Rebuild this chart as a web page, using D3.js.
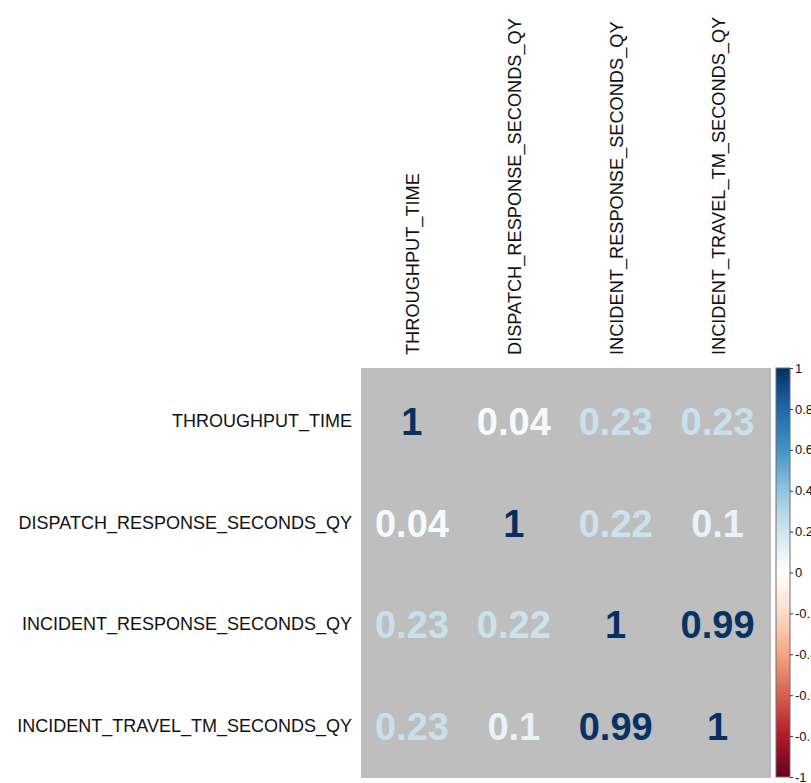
<!DOCTYPE html>
<html>
<head>
<meta charset="utf-8">
<script src="https://cdn.jsdelivr.net/npm/d3@7"></script>
<style>
  html, body { margin: 0; padding: 0; background: #ffffff; }
  svg { display: block; }
</style>
</head>
<body>
<svg id="chart" width="811" height="783"></svg>
<script>
// Variables of the correlation matrix
const variables = [
  "THROUGHPUT_TIME",
  "DISPATCH_RESPONSE_SECONDS_QY",
  "INCIDENT_RESPONSE_SECONDS_QY",
  "INCIDENT_TRAVEL_TM_SECONDS_QY"
];

// Correlation coefficients, one row per variable
const row1 = [1, 0.04, 0.23, 0.23];
const row2 = [0.04, 1, 0.22, 0.1];
const row3 = [0.23, 0.22, 1, 0.99];
const row4 = [0.23, 0.1, 0.99, 1];
const matrix = [row1, row2, row3, row4];

// Colour legend ticks
const legendTicks = [1, 0.8, 0.6, 0.4, 0.2, 0, -0.2, -0.4, -0.6, -0.8, -1];

// Diverging red-blue palette
const paletteStops = ["#67001F", "#B2182B", "#D6604D", "#F4A582", "#FDDBC7", "#FFFFFF",
                      "#D1E5F0", "#92C5DE", "#4393C3", "#2166AC", "#053061"];

const svg = d3.select("#chart");
const font = "'Liberation Sans', Arial, Helvetica, sans-serif";

// Cell grid
const x = d3.scaleBand().domain(variables).range([361, 768.5]);
const y = d3.scaleBand().domain(variables).range([370.5, 777.5]);

const color = d3.scaleLinear()
  .domain(d3.range(paletteStops.length).map(i => -1 + i * 0.2))
  .range(paletteStops)
  .interpolate(d3.interpolateRgb);

// Gray background of the matrix
svg.append("rect")
  .attr("x", 361).attr("y", 368)
  .attr("width", 410).attr("height", 410)
  .attr("fill", "#BEBEBE");

// Coefficient numbers
const cells = [];
matrix.forEach((row, i) => row.forEach((v, j) => cells.push({ r: variables[i], c: variables[j], v })));

svg.append("g").selectAll("text")
  .data(cells)
  .join("text")
  .attr("x", d => x(d.c) + x.bandwidth() / 2)
  .attr("y", d => y(d.r) + y.bandwidth() / 2 + 13.5)
  .attr("text-anchor", "middle")
  .attr("font-family", font)
  .attr("font-weight", "bold")
  .attr("font-size", 38)
  .attr("fill", d => color(d.v))
  .text(d => String(d.v));

// Row labels
svg.append("g").selectAll("text")
  .data(variables)
  .join("text")
  .attr("x", 352)
  .attr("y", d => y(d) + y.bandwidth() / 2 + 5.5)
  .attr("text-anchor", "end")
  .attr("font-family", font)
  .attr("font-size", 18)
  .attr("fill", "#111")
  .text(d => d);

// Column labels, rotated
svg.append("g").selectAll("text")
  .data(variables)
  .join("text")
  .attr("transform", d => `translate(${x(d) + x.bandwidth() / 2 + 7},355) rotate(-90)`)
  .attr("text-anchor", "start")
  .attr("font-family", font)
  .attr("font-size", 18.2)
  .attr("fill", "#111")
  .text(d => d);

// Colour legend
const legX = 776, legW = 14, legTop = 368, legBottom = 777;
const ly = d3.scaleLinear().domain([1, -1]).range([legTop, legBottom]);

const defs = svg.append("defs");
const grad = defs.append("linearGradient")
  .attr("id", "legendGrad")
  .attr("x1", 0).attr("y1", 0).attr("x2", 0).attr("y2", 1);
d3.range(0, 1.0001, 0.05).forEach(t => {
  grad.append("stop")
    .attr("offset", t)
    .attr("stop-color", color(1 - 2 * t));
});

svg.append("rect")
  .attr("x", legX).attr("y", legTop)
  .attr("width", legW).attr("height", legBottom - legTop)
  .attr("fill", "url(#legendGrad)")
  .attr("stroke", "#6e6e6e")
  .attr("stroke-width", 1);

const legAxis = d3.axisRight(ly)
  .tickValues(legendTicks)
  .tickSize(3)
  .tickPadding(2)
  .tickFormat(d => String(d));

const axG = svg.append("g")
  .attr("transform", `translate(${legX + legW},0)`)
  .call(legAxis);
axG.select(".domain").remove();
axG.selectAll(".tick line").attr("stroke", "#333");
axG.selectAll(".tick text")
  .attr("font-family", font)
  .attr("font-size", 13)
  .attr("fill", "#111");
</script>
</body>
</html>
